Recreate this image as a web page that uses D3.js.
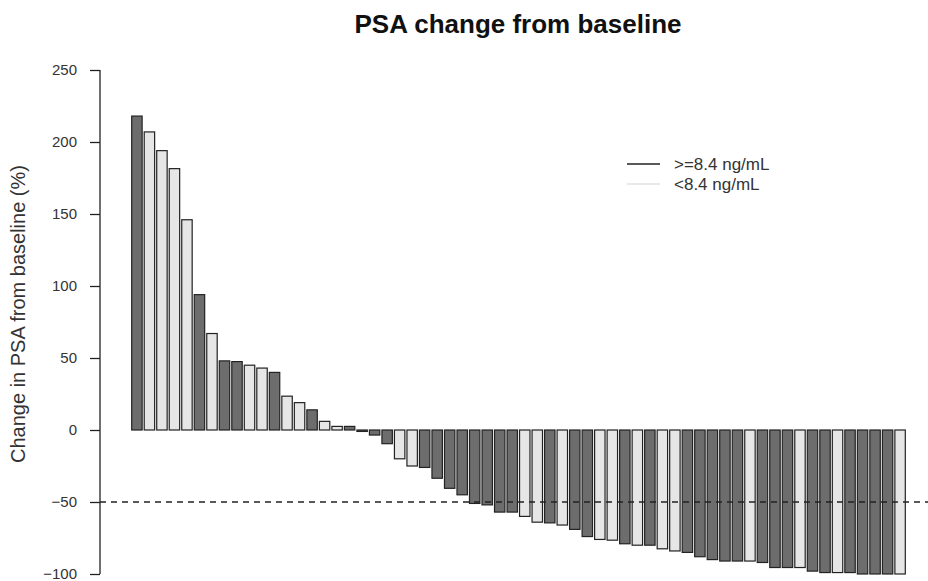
<!DOCTYPE html>
<html>
<head>
<meta charset="utf-8">
<script src="https://cdn.jsdelivr.net/npm/d3@7"></script>
<style>
  html, body { margin: 0; padding: 0; background: #fff; }
  svg { display: block; font-family: "Liberation Sans", Arial, sans-serif; }
</style>
</head>
<body>
<svg id="chart" width="928" height="581"></svg>
<script>
// ---- data ----
const psaChange = [218, 207, 194, 181.5, 146, 94, 67, 48, 47.5, 45, 43, 40, 23.5, 19, 14, 6, 2.5, 2.5, -1, -3.5,
  -9.5, -20, -25, -26, -33.5, -40.5, -45, -51, -52, -57, -57, -60, -64, -64.5, -66, -69, -74, -76, -76.5, -79,
  -80, -80, -82.5, -84, -85, -88, -90, -91, -91, -91, -92, -95.5, -95.5, -95.5, -98, -99, -99, -99, -100, -100,
  -100, -100];
const baselineGroup = ["H","L","L","L","L","H","L","H","H","L","L","H","L","L","H","L","L","H","H","H",
  "H","L","L","H","H","H","H","H","H","H","H","L","L","H","L","H","H","L","L","H",
  "L","H","L","L","H","H","H","H","H","L","H","H","H","L","H","H","L","H","H","H",
  "H","L"];
const groupKeys = ["H", "L"];
const groupLabels = [">=8.4 ng/mL", "<8.4 ng/mL"];
const yTicks = [-100, -50, 0, 50, 100, 150, 200, 250];
const threshold = -50;
const titleText = "PSA change from baseline";
const yLabel = "Change in PSA from baseline (%)";

// ---- drawing ----
const svg = d3.select("#chart");
const fillColor = d3.scaleOrdinal().domain(groupKeys).range(["#6d6d6d", "#e6e6e6"]);
const legendColor = d3.scaleOrdinal().domain(groupKeys).range(["#222222", "#e2e2e2"]);

const x = d3.scaleBand()
  .domain(d3.range(psaChange.length))
  .range([131.7, 905.3])
  .paddingInner(1/6)
  .paddingOuter(0);
const y = d3.scaleLinear().domain([-100, 250]).range([574, 70]);

// title
svg.append("text")
  .attr("x", 518).attr("y", 33)
  .attr("text-anchor", "middle")
  .attr("font-size", 26).attr("font-weight", "bold")
  .attr("fill", "#111")
  .text(titleText);

// y axis
const yAxis = svg.append("g")
  .attr("transform", "translate(100,0)")
  .call(d3.axisLeft(y).tickValues(yTicks).tickSize(10).tickPadding(13).tickFormat(d3.format("d")));
yAxis.select(".domain").attr("stroke", "#222").attr("stroke-width", 1.3).attr("d", `M0,${y(-100)}V${y(250)}`);
yAxis.selectAll(".tick line").attr("stroke", "#222").attr("stroke-width", 1.3);
yAxis.selectAll(".tick text").attr("font-size", 15).attr("fill", "#333")
  .attr("font-family", "'Liberation Sans', Arial, sans-serif");

// y label
svg.append("text")
  .attr("transform", `translate(25,${314}) rotate(-90)`)
  .attr("text-anchor", "middle")
  .attr("font-size", 20)
  .attr("fill", "#333")
  .text(yLabel);

// bars
svg.append("g").selectAll("rect")
  .data(psaChange)
  .join("rect")
  .attr("x", (d, i) => x(i))
  .attr("width", x.bandwidth())
  .attr("y", d => y(Math.max(0, d)))
  .attr("height", d => Math.abs(y(d) - y(0)))
  .attr("fill", (d, i) => fillColor(baselineGroup[i]))
  .attr("stroke", "#222")
  .attr("stroke-width", 1.2);

// threshold line
svg.append("line")
  .attr("x1", 100).attr("x2", 928)
  .attr("y1", y(threshold)).attr("y2", y(threshold))
  .attr("stroke", "#222").attr("stroke-width", 1.3)
  .attr("stroke-dasharray", "6,5");

// legend
const legend = svg.append("g").selectAll("g")
  .data(groupKeys)
  .join("g")
  .attr("transform", (d, i) => `translate(627,${164 + i * 20})`);
legend.append("line")
  .attr("x1", 0).attr("x2", 33)
  .attr("stroke", d => legendColor(d))
  .attr("stroke-width", 1.5);
legend.append("text")
  .attr("x", 47).attr("y", 0).attr("dy", "0.35em")
  .attr("font-size", 17).attr("fill", "#333")
  .text((d, i) => groupLabels[i]);
</script>
</body>
</html>
